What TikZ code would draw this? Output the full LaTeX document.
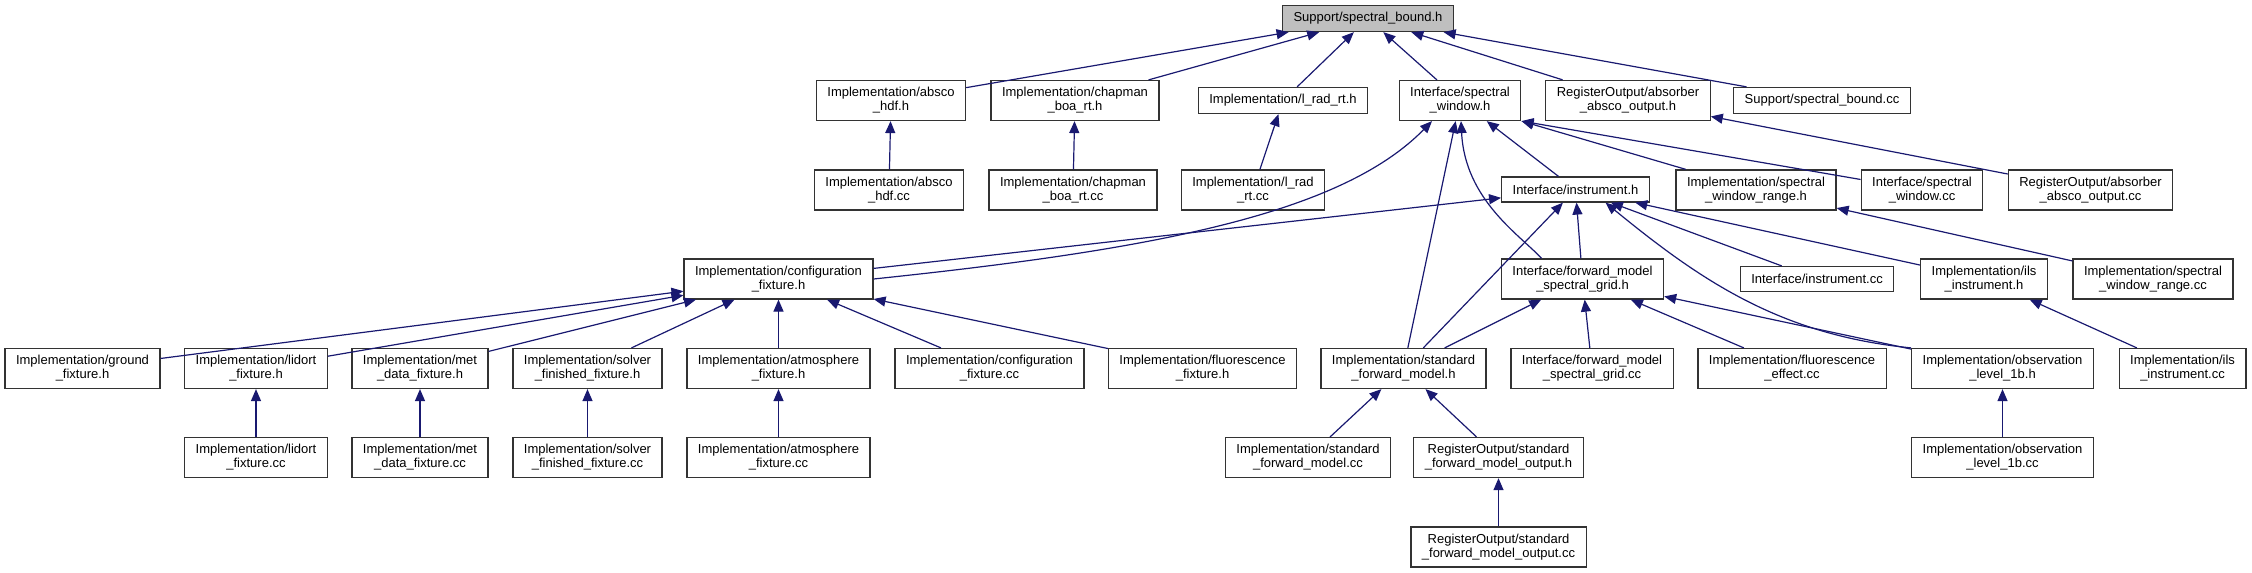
\documentclass[tikz,border=0pt]{standalone}
\usepackage{fontspec}
\setmainfont{Liberation Sans}
\usetikzlibrary{arrows.meta}

\definecolor{edgeblue}{HTML}{191970}
\definecolor{rootgray}{HTML}{BFBFBF}

\begin{document}
\begin{tikzpicture}[x=1pt,y=-1pt,
        file/.style={draw=black!80, line width=1.2pt, fill=white, align=center,
            inner xsep=11pt, inner ysep=7pt, minimum height=25pt,
            font=\fontsize{13}{14}\selectfont},
        root/.style={file, fill=rootgray},
        dep/.style={edgeblue, line width=1.2pt, -{Triangle[length=12pt,width=10pt]}}]
        \useasboundingbox (0,0) rectangle (2252,573);

        % The header itself
        \node[root] (sb) at (1368,18.5) {Support/spectral\_bound.h};

        % Direct includers
        \node[file] (ahh) at (891,100.5) {Implementation/absco\\\_hdf.h};
        \node[file] (cbh) at (1075,100.5) {Implementation/chapman\\\_boa\_rt.h};
        \node[file] (lrh) at (1283,100.5) {Implementation/l\_rad\_rt.h};
        \node[file] (swh) at (1460,100.5) {Interface/spectral\\\_window.h};
        \node[file] (aoh) at (1628,100.5) {RegisterOutput/absorber\\\_absco\_output.h};
        \node[file] (sbc) at (1822,100.5) {Support/spectral\_bound.cc};

        % Second row
        \node[file] (ahc) at (889,190) {Implementation/absco\\\_hdf.cc};
        \node[file] (cbc) at (1073,190) {Implementation/chapman\\\_boa\_rt.cc};
        \node[file] (lrc) at (1253,190) {Implementation/l\_rad\\\_rt.cc};
        \node[file] (inh) at (1575.5,189.5) {Interface/instrument.h};
        \node[file] (swrh) at (1756,190) {Implementation/spectral\\\_window\_range.h};
        \node[file] (swc) at (1922,190) {Interface/spectral\\\_window.cc};
        \node[file] (aoc) at (2090.5,190) {RegisterOutput/absorber\\\_absco\_output.cc};

        % Third row
        \node[file] (cfh) at (778.5,279) {Implementation/configuration\\\_fixture.h};
        \node[file] (fgh) at (1582.5,279) {Interface/forward\_model\\\_spectral\_grid.h};
        \node[file] (inc) at (1817,279) {Interface/instrument.cc};
        \node[file] (ilh) at (1984,279) {Implementation/ils\\\_instrument.h};
        \node[file] (swrc) at (2153,279) {Implementation/spectral\\\_window\_range.cc};

        % Fourth row
        \node[file] (gfh) at (82.5,368.5) {Implementation/ground\\\_fixture.h};
        \node[file] (lfh) at (256,368.5) {Implementation/lidort\\\_fixture.h};
        \node[file] (mfh) at (420,368.5) {Implementation/met\\\_data\_fixture.h};
        \node[file] (sfh) at (587.5,368.5) {Implementation/solver\\\_finished\_fixture.h};
        \node[file] (afh) at (778.5,368.5) {Implementation/atmosphere\\\_fixture.h};
        \node[file] (cfc) at (989.5,368.5) {Implementation/configuration\\\_fixture.cc};
        \node[file] (ffh) at (1202.5,368.5) {Implementation/fluorescence\\\_fixture.h};
        \node[file] (smh) at (1403.5,368.5) {Implementation/standard\\\_forward\_model.h};
        \node[file] (fgc) at (1592,368.5) {Interface/forward\_model\\\_spectral\_grid.cc};
        \node[file] (fec) at (1792,368.5) {Implementation/fluorescence\\\_effect.cc};
        \node[file] (olh) at (2002.5,368.5) {Implementation/observation\\\_level\_1b.h};
        \node[file] (ilc) at (2182.5,368.5) {Implementation/ils\\\_instrument.cc};

        % Fifth and sixth rows
        \node[file] (lfc) at (256,457.5) {Implementation/lidort\\\_fixture.cc};
        \node[file] (mfc) at (420,457.5) {Implementation/met\\\_data\_fixture.cc};
        \node[file] (sfc) at (587.5,457.5) {Implementation/solver\\\_finished\_fixture.cc};
        \node[file] (afc) at (778.5,457.5) {Implementation/atmosphere\\\_fixture.cc};
        \node[file] (smc) at (1308,457.5) {Implementation/standard\\\_forward\_model.cc};
        \node[file] (soh) at (1498.5,457.5) {RegisterOutput/standard\\\_forward\_model\_output.h};
        \node[file] (olc) at (2002.5,457.5) {Implementation/observation\\\_level\_1b.cc};
        \node[file] (soc) at (1498.5,547) {RegisterOutput/standard\\\_forward\_model\_output.cc};

        % Includes of the header
        \foreach \src in {ahh,cbh,lrh,swh,aoh,sbc}
            \draw[dep] (\src) -- (sb);
        \draw[dep] (ahc) -- (ahh);
        \draw[dep] (cbc) -- (cbh);
        \draw[dep] (lrc) -- (lrh);
        \draw[dep] (aoc) -- (aoh);

        % Includes of spectral_window.h
        \draw[dep] (inh) -- (swh);
        \draw[dep] (smh) -- (swh);
        \draw[dep] (swrh) -- (swh.south east);
        \draw[dep] (swc) -- (swh.south east);
        \draw[dep] (cfh.east) .. controls (1150,250) and (1340,215) .. ([xshift=-28pt]swh.south);
        \draw[dep] (fgh.north) ++(-41pt,0) .. controls (1520,235) and (1465,200) .. ([xshift=1pt]swh.south);
        \draw[dep] (swrc) -- (swrh);

        % Includes of instrument.h
        \draw[dep] (cfh) -- (inh);
        \draw[dep] (smh) -- (inh);
        \draw[dep] (fgh) -- (inh);
        \draw[dep] (inc) -- (inh);
        \draw[dep] (ilh) -- (inh);
        \draw[dep] (olh.north west) .. controls (1780,335) and (1700,280) .. ([xshift=30pt]inh.south);

        % Includes of forward_model_spectral_grid.h
        \foreach \src in {smh,fgc,fec,olh}
            \draw[dep] (\src) -- (fgh);
        \draw[dep] (ilc) -- (ilh);
        \draw[dep] (olc) -- (olh);

        % Includes of configuration_fixture.h
        \foreach \src in {gfh,lfh,mfh,sfh,afh,cfc,ffh}
            \draw[dep] (\src) -- (cfh);
        \draw[dep] (lfc) -- (lfh);
        \draw[dep] (mfc) -- (mfh);
        \draw[dep] (sfc) -- (sfh);
        \draw[dep] (afc) -- (afh);

        % Includes of standard_forward_model.h
        \draw[dep] (smc) -- (smh);
        \draw[dep] (soh) -- (smh);
        \draw[dep] (soc) -- (soh);
    \end{tikzpicture}
\end{document}
